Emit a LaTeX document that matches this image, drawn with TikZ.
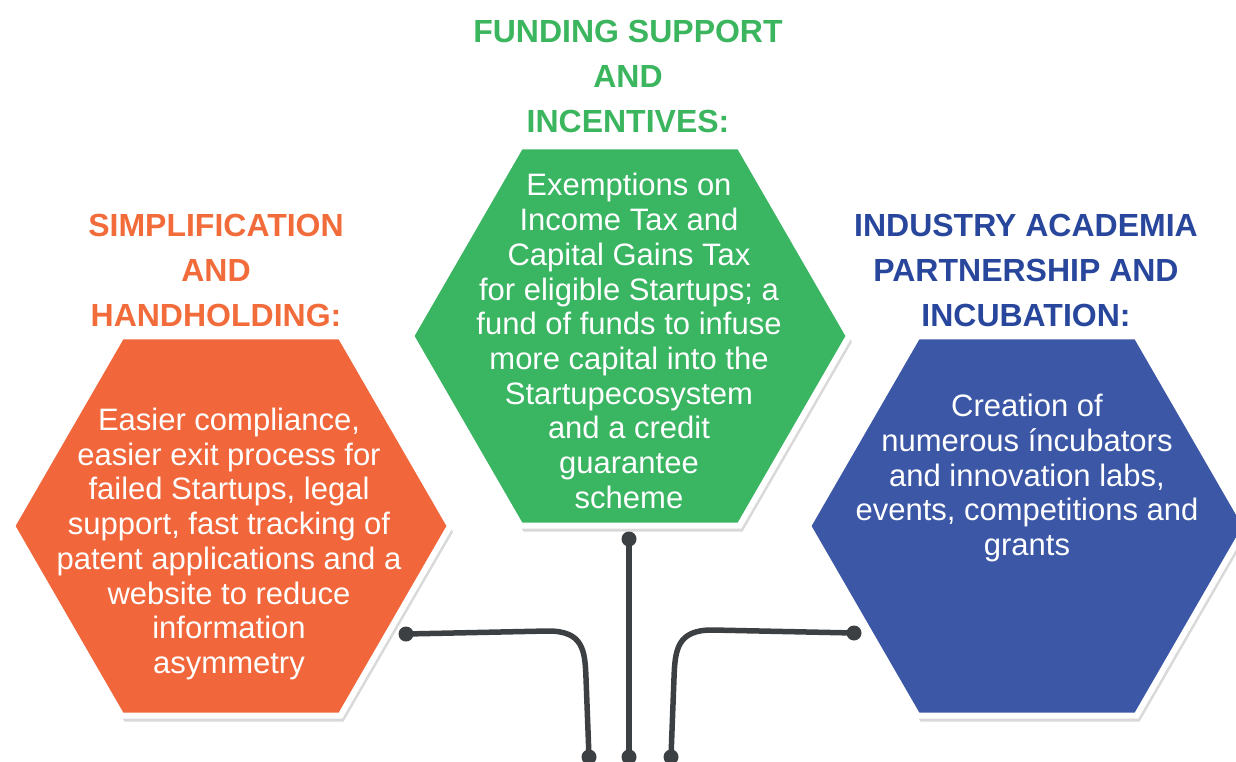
\documentclass[tikz,border=0pt]{standalone}
\usepackage{fontspec}
\setmainfont{Liberation Sans}
\usepackage{tikz}
\usetikzlibrary{calc,shapes,shadows}

\definecolor{simpcol}{HTML}{F1663A}
\definecolor{fundcol}{HTML}{3AB562}
\definecolor{incucol}{HTML}{3B57A6}
\definecolor{simphd}{HTML}{F26B3A}
\definecolor{fundhd}{HTML}{3BB55E}
\definecolor{incuhd}{HTML}{28469C}
\definecolor{linkcol}{HTML}{3D4043}

\tikzset{
	hexbox/.style={regular polygon, regular polygon sides=6, minimum size=438pt, inner sep=0pt,
		draw=white, line width=6pt,
		drop shadow={shadow xshift=3pt, shadow yshift=-6pt, opacity=0.25, fill=black!60}},
	headtxt/.style={align=center, font=\fontsize{32}{45}\selectfont\bfseries},
	bodytxt/.style={align=center, text=white, font=\fontsize{31}{34.7}\selectfont},
	link/.style={draw=linkcol, line width=5.5pt, line cap=round}
}

\begin{document}
\begin{tikzpicture}[x=1pt,y=-1pt]
	
	\useasboundingbox (0,0) rectangle (1236,762);
	\clip (0,0) rectangle (1236,762);
	
	\node[hexbox, fill=simpcol] (simp) at (231,526) {};
	\node[hexbox, fill=fundcol] (fund) at (630,336) {};
	\node[hexbox, fill=incucol] (incu) at (1027,526) {};
	
	\node[headtxt, text=simphd] (simphead) at (216,270) {SIMPLIFICATION\\AND\\HANDHOLDING:};
	\node[headtxt, text=fundhd] (fundhead) at (628,76) {FUNDING SUPPORT\\AND\\INCENTIVES:};
	\node[headtxt, text=incuhd] (incuhead) at (1026,270) {INDUSTRY ACADEMIA\\PARTNERSHIP AND\\INCUBATION:};
	
	\node[bodytxt] (simptext) at (229,544) {Easier compliance,\\easier exit process for\\failed Startups, legal\\support, fast tracking of\\patent applications and a\\website to reduce\\information\\asymmetry};
	\node[bodytxt] (fundtext) at (629,341) {Exemptions on\\Income Tax and\\Capital Gains Tax\\for eligible Startups; a\\fund of funds to infuse\\more capital into the\\Startupecosystem\\and a credit\\guarantee\\scheme};
	\node[bodytxt] (incutext) at (1027,478) {Creation of\\numerous íncubators\\and innovation labs,\\events, competitions and\\grants};
	
	% connectors
	\coordinate (fundtop) at (629,539);
	\coordinate (fundend) at (629,757);
	\coordinate (simptop) at (406,634);
	\coordinate (simpend) at (589,757);
	\coordinate (incutop) at (854,633);
	\coordinate (incuend) at (671,757);
	
	\draw[link] (fundtop) -- (fundend);
	\draw[link] (simptop) -- (548,631) .. controls (583,631) and (585,650) .. (586,678) -- (simpend);
	\draw[link] (incutop) -- (712,630) .. controls (677,630) and (675,650) .. (674,678) -- (incuend);
	
	\foreach \c in {fundtop,fundend,simptop,simpend,incutop,incuend}
		\fill[linkcol] (\c) circle (7.5);
	
\end{tikzpicture}
\end{document}
